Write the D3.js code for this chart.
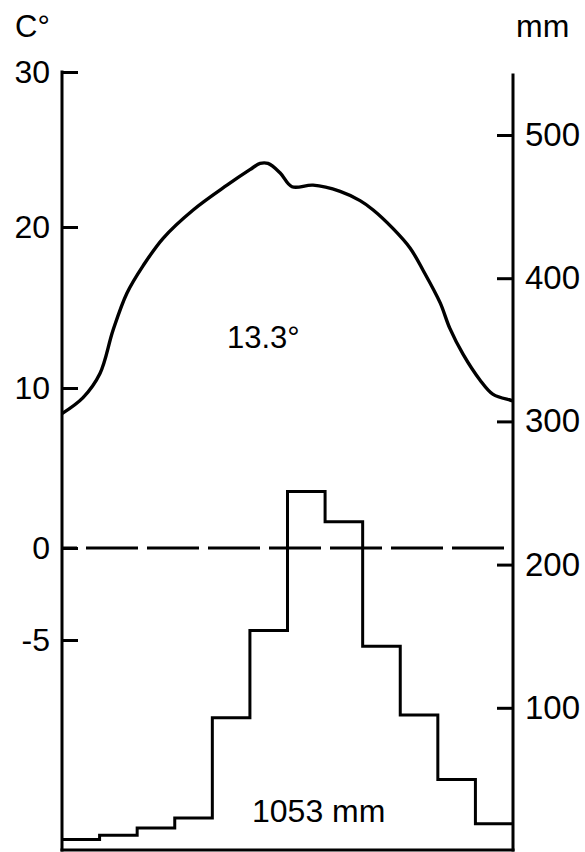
<!DOCTYPE html>
<html>
<head>
<meta charset="utf-8">
<script src="https://cdn.jsdelivr.net/npm/d3@7"></script>
<style>
  html, body { margin: 0; padding: 0; background: #fff; }
  svg { display: block; }
  text { font-family: "Liberation Sans", Arial, sans-serif; fill: #000; }
</style>
</head>
<body>
<div id="chart"></div>
<script>
"use strict";

// monthly precipitation (mm), Jan..Dec
const months = ['Jan', 'Feb', 'Mar', 'Apr', 'May', 'Jun', 'Jul', 'Aug', 'Sep', 'Oct', 'Nov', 'Dec'];
const precipMm = [8, 11, 16, 23, 93, 154, 251, 230, 143, 95, 50, 19];

// temperature curve (position in months, degrees C)
const tempMonth = [0, 0.56, 1.01, 1.36, 1.73, 2.16, 2.69, 3.49, 4.39, 5.0, 5.27, 5.48, 5.8, 6.12,
    6.68, 7.4, 7.93, 8.28, 8.81, 9.26, 9.61, 10.06, 10.32, 10.67, 11.12, 11.47, 11.92, 12];
const tempC = [8.4, 9.4, 10.9, 13.6, 15.9, 17.6, 19.3, 21.1, 22.7, 23.7, 24.1, 24.1, 23.5, 22.6,
    22.7, 22.3, 21.7, 21.1, 19.9, 18.7, 17.3, 15.3, 13.7, 12.1, 10.5, 9.6, 9.25, 9.2];

const tempTicks = [30, 20, 10, 0, -5];
const mmTicks = [500, 400, 300, 200, 100];
const meanTempLabel = '13.3°';
const totalPrecipLabel = '1053 mm';

const width = 585, height = 852;
const left = 62, right = 513, bottom = 850;

const svg = d3.select('#chart').append('svg')
    .attr('width', width)
    .attr('height', height);

const x = d3.scaleLinear().domain([0, 12]).range([left, right]);
const tempY = d3.scaleLinear().domain([-5, 0, 10, 20, 30]).range([640, 548, 388, 227, 72]);
const mmY = d3.scaleLinear().domain([0, 500]).range([851, 135]);

// frame
const frame = svg.append('g')
    .attr('stroke', '#000')
    .attr('stroke-width', 3)
    .attr('stroke-linecap', 'square');
frame.append('line').attr('x1', left).attr('x2', left).attr('y1', tempY(30)).attr('y2', bottom);
frame.append('line').attr('x1', right).attr('x2', right).attr('y1', 75).attr('y2', bottom);
frame.append('line').attr('x1', left).attr('x2', right).attr('y1', bottom).attr('y2', bottom);

// axes, ticks pointing inwards
const styleAxis = (g, size) => {
    g.select('.domain').remove();
    g.selectAll('.tick line').attr('stroke', '#000').attr('stroke-width', 3);
    g.selectAll('.tick text').style('font-size', `${size}px`).attr('fill', '#000');
}

svg.append('g')
    .attr('transform', `translate(${left},0)`)
    .call(d3.axisLeft(tempY).tickValues(tempTicks).tickSize(-16).tickSizeOuter(0)
        .tickPadding(12).tickFormat(d => String(d)))
    .call(g => styleAxis(g, 32));

svg.append('g')
    .attr('transform', `translate(${right},0)`)
    .call(d3.axisRight(mmY).tickValues(mmTicks).tickSize(-16).tickSizeOuter(0)
        .tickPadding(12).tickFormat(d => String(d)))
    .call(g => styleAxis(g, 33));

// zero line
svg.append('line')
    .attr('x1', x(0)).attr('x2', x(12) - 6)
    .attr('y1', tempY(0)).attr('y2', tempY(0))
    .attr('stroke', '#000')
    .attr('stroke-width', 3)
    .attr('stroke-dasharray', '52,9')
    .attr('stroke-dashoffset', 37);

// precipitation steps
const stepData = precipMm.map((v, i) => [i, v]).concat([[12, precipMm[precipMm.length - 1]]]);
svg.append('path')
    .datum(stepData)
    .attr('fill', 'none')
    .attr('stroke', '#000')
    .attr('stroke-width', 3)
    .attr('d', d3.line().x(d => x(d[0])).y(d => mmY(d[1])).curve(d3.curveStepAfter));

// temperature curve
svg.append('path')
    .datum(tempMonth.map((m, i) => [m, tempC[i]]))
    .attr('fill', 'none')
    .attr('stroke', '#000')
    .attr('stroke-width', 3.4)
    .attr('stroke-linejoin', 'round')
    .attr('d', d3.line().x(d => x(d[0])).y(d => tempY(d[1])).curve(d3.curveCatmullRom.alpha(0.5)));

// labels
svg.append('text').attr('x', 15).attr('y', 37).style('font-size', '31px').text('C°');
svg.append('text').attr('x', 516).attr('y', 37).style('font-size', '32px').text('mm');
svg.append('text').attr('x', 227).attr('y', 348).style('font-size', '31px').text(meanTempLabel);
svg.append('text').attr('x', 252).attr('y', 822).style('font-size', '32px').text(totalPrecipLabel);
</script>
</body>
</html>
